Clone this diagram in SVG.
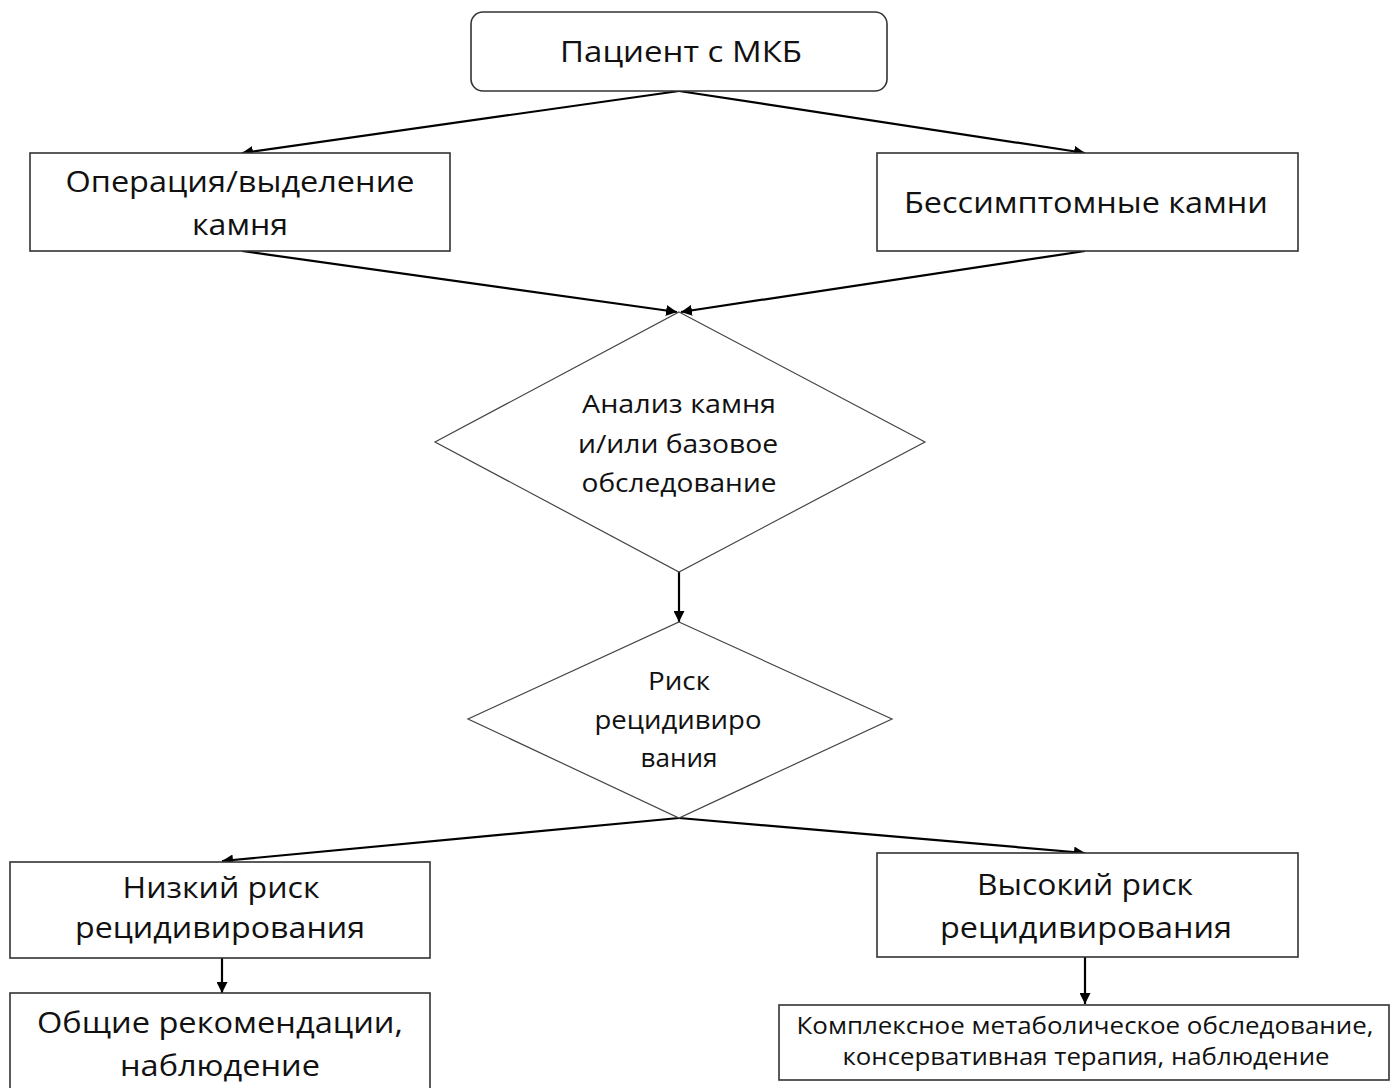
<svg xmlns="http://www.w3.org/2000/svg" width="1394" height="1088" viewBox="0 0 1394 1088">
<defs>
<marker id="ah" viewBox="0 0 10 10" refX="10" refY="5" markerWidth="5" markerHeight="5" orient="auto" markerUnits="strokeWidth">
<path d="M0,0 L10,5 L0,10 z" fill="#000"/>
</marker>
<style>
.box{fill:#fff;stroke:#333;stroke-width:1.6}
.dia{fill:#fff;stroke:#444;stroke-width:1.2}
.con{fill:none;stroke:#000;stroke-width:2.2;marker-end:url(#ah)}
text{font-family:"Open Sans","Noto Sans","Liberation Sans",sans-serif;fill:#111;text-anchor:middle}
.big{font-size:30px}
.mid{font-size:26px}
.sm{font-size:23px}
</style>
</defs>
<rect width="1394" height="1088" fill="#fff"/>
<g id="connectors">
<line class="con" x1="679" y1="91" x2="242" y2="153"/>
<line class="con" x1="679" y1="91" x2="1085" y2="153"/>
<line class="con" x1="242" y1="251" x2="677" y2="312"/>
<line class="con" x1="1085" y1="251" x2="681" y2="312"/>
<line class="con" x1="679" y1="572" x2="679" y2="622"/>
<line class="con" x1="679" y1="818" x2="222" y2="861"/>
<line class="con" x1="679" y1="818" x2="1085" y2="853"/>
<line class="con" x1="222" y1="958" x2="222" y2="993"/>
<line class="con" x1="1085" y1="957" x2="1085" y2="1004"/>
</g>
<g id="n-patient">
<rect class="box" x="471" y="12" width="416" height="79" rx="12"/>
<text class="big" x="681" y="62" textLength="242" lengthAdjust="spacingAndGlyphs">Пациент с МКБ</text>
</g>
<g id="n-operation">
<rect class="box" x="30" y="153" width="420" height="98"/>
<text class="big" x="240" y="192" textLength="349" lengthAdjust="spacingAndGlyphs">Операция/выделение</text>
<text class="big" x="240" y="235" textLength="96" lengthAdjust="spacingAndGlyphs">камня</text>
</g>
<g id="n-asymptomatic">
<rect class="box" x="877" y="153" width="421" height="98"/>
<text class="big" x="1086" y="213" textLength="364" lengthAdjust="spacingAndGlyphs">Бессимптомные камни</text>
</g>
<g id="n-analysis">
<polygon class="dia" points="679,312 925,442 679,572 435,442"/>
<text class="mid" x="679" y="413" textLength="194" lengthAdjust="spacingAndGlyphs">Анализ камня</text>
<text class="mid" x="678" y="453" textLength="200" lengthAdjust="spacingAndGlyphs">и/или базовое</text>
<text class="mid" x="679" y="492" textLength="195" lengthAdjust="spacingAndGlyphs">обследование</text>
</g>
<g id="n-risk">
<polygon class="dia" points="679,622 892,719 679,818 468,719"/>
<text class="mid" x="679" y="690" textLength="62" lengthAdjust="spacingAndGlyphs">Риск</text>
<text class="mid" x="678" y="729" textLength="167" lengthAdjust="spacingAndGlyphs">рецидивиро</text>
<text class="mid" x="679" y="767" textLength="77" lengthAdjust="spacingAndGlyphs">вания</text>
</g>
<g id="n-low">
<rect class="box" x="10" y="862" width="420" height="96"/>
<text class="big" x="221" y="898" textLength="197" lengthAdjust="spacingAndGlyphs">Низкий риск</text>
<text class="big" x="220" y="938" textLength="290" lengthAdjust="spacingAndGlyphs">рецидивирования</text>
</g>
<g id="n-general">
<rect class="box" x="10" y="993" width="420" height="110"/>
<text class="big" x="220" y="1033" textLength="366" lengthAdjust="spacingAndGlyphs">Общие рекомендации,</text>
<text class="big" x="220" y="1076" textLength="200" lengthAdjust="spacingAndGlyphs">наблюдение</text>
</g>
<g id="n-high">
<rect class="box" x="877" y="853" width="421" height="104"/>
<text class="big" x="1085" y="895" textLength="216" lengthAdjust="spacingAndGlyphs">Высокий риск</text>
<text class="big" x="1086" y="938" textLength="292" lengthAdjust="spacingAndGlyphs">рецидивирования</text>
</g>
<g id="n-complex">
<rect class="box" x="779" y="1005" width="610" height="75"/>
<text class="sm" x="1085" y="1034" textLength="577" lengthAdjust="spacingAndGlyphs">Комплексное метаболическое  обследование,</text>
<text class="sm" x="1086" y="1065" textLength="487" lengthAdjust="spacingAndGlyphs">консервативная  терапия, наблюдение</text>
</g>
</svg>
